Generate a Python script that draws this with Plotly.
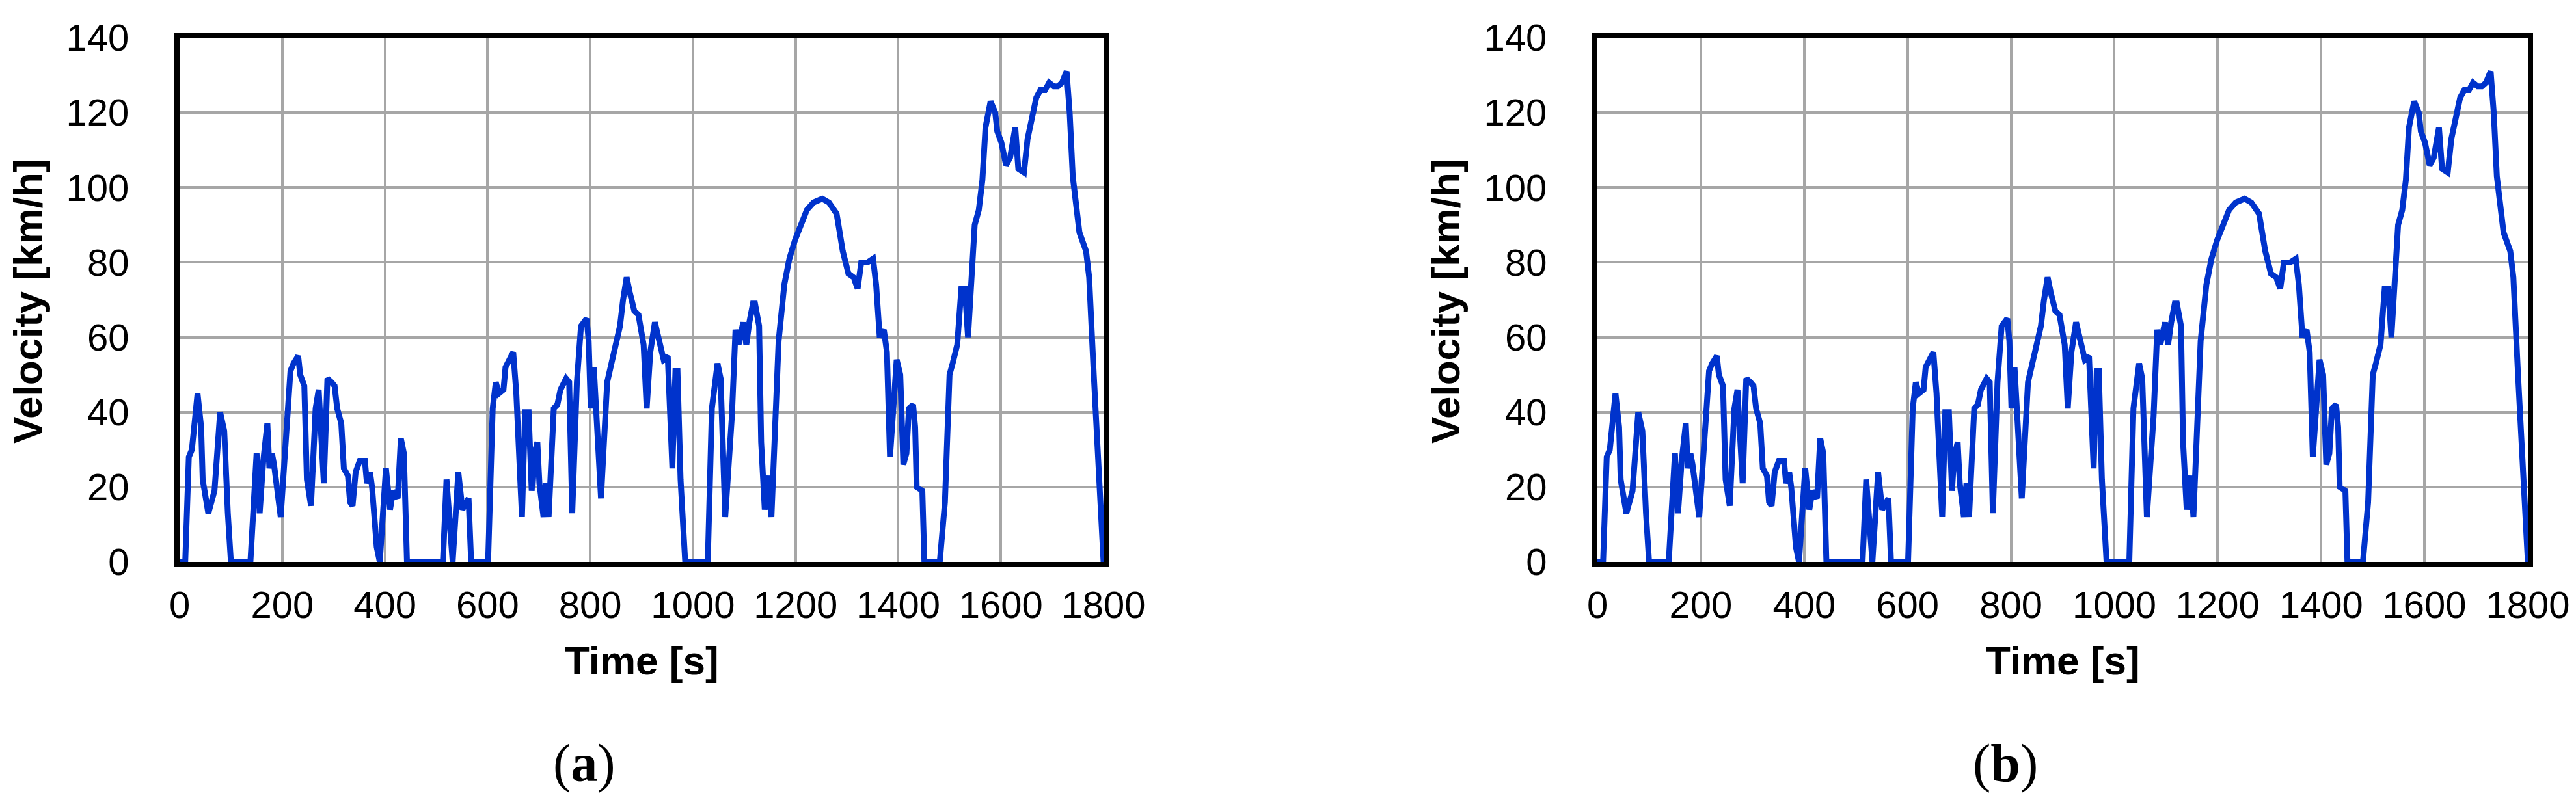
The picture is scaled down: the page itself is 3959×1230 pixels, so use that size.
import plotly.graph_objects as go

# drive cycle: time [s] and velocity [km/h]
time_s = [0, 11, 18, 24, 35, 42, 45, 49, 56, 62, 68, 79, 87, 94, 100, 138,
          150, 156, 163, 171, 175, 180, 184, 197, 208, 216, 222, 231, 235, 243,
          248, 256, 265, 271, 281, 288, 296, 302, 307, 315, 320, 328, 332, 337,
          343, 351, 358, 361, 365, 371, 375, 384, 390, 397, 402, 410, 416, 425,
          431, 437, 443, 513, 520, 532, 543, 551, 563, 568, 601, 610, 616, 622,
          631, 635, 644, 650, 656, 665, 667, 673, 680, 686, 690, 697, 701, 709,
          714, 719, 729, 736, 742, 753, 759, 765, 774, 782, 793, 797, 801, 807,
          811, 821, 833, 839, 847, 858, 864, 871, 877, 886, 894, 900, 904, 910,
          917, 926, 934, 943, 951, 960, 966, 970, 976, 985, 1029, 1037, 1048,
          1054, 1063, 1070, 1076, 1083, 1089, 1098, 1104, 1110, 1117, 1121, 1129,
          1133, 1140, 1148, 1153, 1159, 1167, 1178, 1188, 1199, 1212, 1222, 1235,
          1252, 1265, 1280, 1292, 1303, 1313, 1321, 1328, 1340, 1351, 1357, 1364,
          1372, 1378, 1384, 1391, 1397, 1404, 1410, 1416, 1421, 1429, 1433, 1436,
          1447, 1451, 1481, 1491, 1500, 1506, 1515, 1523, 1530, 1536, 1544, 1549,
          1557, 1564, 1570, 1580, 1589, 1593, 1601, 1610, 1618, 1628, 1634, 1645,
          1652, 1660, 1669, 1677, 1686, 1694, 1703, 1711, 1719, 1728, 1734, 1740,
          1747, 1753, 1766, 1772, 1781, 1791, 1800]

speed_a = [0, 0, 28, 30, 45, 36, 22, 18, 13, 16, 19, 40, 35, 13, 0, 0,
           29, 13, 27, 37, 25, 29, 26, 12, 36, 51, 53, 55, 50, 47,
           22, 15, 41, 46, 21, 49, 48, 47, 41, 37, 25, 23, 16, 15,
           24, 27, 27, 27, 21, 24, 20, 4, 0, 18, 25, 14, 19, 17,
           33, 29, 0, 0, 22, 0, 24, 14, 17, 0, 0, 41, 48, 45,
           46, 52, 54, 56, 45, 22, 12, 40, 40, 19, 28, 32, 21, 12,
           21, 12, 41, 42, 46, 49, 48, 13, 48, 63, 65, 59, 41, 52,
           42, 17, 48, 52, 57, 63, 70, 76, 72, 67, 66, 60, 58, 41,
           56, 64, 59, 54, 55, 25, 51, 51, 22, 0, 0, 41, 53,
           49, 12, 24, 39, 62, 58, 64, 58, 64, 69, 69, 63,
           32, 14, 23, 12, 32, 59, 74, 81, 86, 91, 94, 96,
           97, 96, 93, 83, 77, 76, 73, 80, 80, 81, 74, 60,
           62, 56, 28, 42, 54, 50, 26, 29, 41, 42, 36, 20,
           19, 0, 0, 16, 50, 53, 58, 73, 73, 60, 79, 90,
           94, 102, 116, 123, 120, 115, 112, 106, 108, 116, 105, 104,
           113, 118, 124, 126, 126, 128, 127, 127, 128, 131, 120, 103,
           93, 88, 83, 76, 50, 22, 0]

# the second panel shows the same trace
speed_b = list(speed_a)

panel_labels = ["a", "b"]
x_ticks = [0, 200, 400, 600, 800, 1000, 1200, 1400, 1600, 1800]
y_ticks = [0, 20, 40, 60, 80, 100, 120, 140]

W, H = 3959, 1230
BLUE = "#0033cc"
GRID = "#a6a6a6"
SANS = "Liberation Sans, Arial, sans-serif"
SERIF = "Liberation Serif, Times New Roman, serif"

# pixel geometry of the two panels (left, right) and shared top/bottom
panels = [(268, 1688), (2447, 3877)]
top_px, bottom_px = 50, 856

fig = go.Figure()
for i, speed in enumerate([speed_a, speed_b]):
    sfx = "" if i == 0 else str(i + 1)
    fig.add_trace(go.Scatter(x=time_s, y=speed, mode="lines",
                             line=dict(color=BLUE, width=9),
                             xaxis="x" + sfx, yaxis="y" + sfx,
                             showlegend=False, hoverinfo="skip"))

axis_common = dict(showline=True, linecolor="black", linewidth=8, mirror=True,
                   showgrid=True, gridcolor=GRID, gridwidth=3.5, zeroline=False,
                   ticks="", tickfont=dict(family=SANS, size=58, color="black"),
                   layer="below traces", automargin=False)

layout = dict(width=W, height=H, margin=dict(l=0, r=0, t=0, b=0, autoexpand=False),
              paper_bgcolor="white", plot_bgcolor="white", showlegend=False)
ydom = [1 - bottom_px / H, 1 - top_px / H]
annotations = []
for i, (x0, x1) in enumerate(panels):
    sfx = "" if i == 0 else str(i + 1)
    layout["xaxis" + sfx] = dict(axis_common, domain=[x0 / W, x1 / W],
                                 range=[0, 1800], tickvals=x_ticks,
                                 anchor="y" + sfx, ticklabelstandoff=8)
    layout["yaxis" + sfx] = dict(axis_common, domain=ydom, range=[0, 140],
                                 tickvals=y_ticks, anchor="x" + sfx,
                                 ticklabelstandoff=58)
    cx = (x0 + x1) / 2
    annotations.append(dict(text="<b>Velocity [km/h]</b>", textangle=-90,
                            x=(x0 - 233) / W, y=1 - 455 / H, xref="paper", yref="paper",
                            xanchor="center", yanchor="middle", showarrow=False,
                            font=dict(family=SANS, size=62, color="black")))
    annotations.append(dict(text="<b>Time [s]</b>", x=cx / W, y=1 - 1007 / H,
                            xref="paper", yref="paper", xanchor="center",
                            yanchor="middle", showarrow=False,
                            font=dict(family=SANS, size=62, color="black")))
    annotations.append(dict(text="(<b>" + panel_labels[i] + "</b>)",
                            x=(cx - 88) / W, y=1 - 1165 / H,
                            xref="paper", yref="paper", xanchor="center",
                            yanchor="middle", showarrow=False,
                            font=dict(family=SERIF, size=82, color="black")))
layout["annotations"] = annotations
fig.update_layout(**layout)

fig.write_html("out.html")
